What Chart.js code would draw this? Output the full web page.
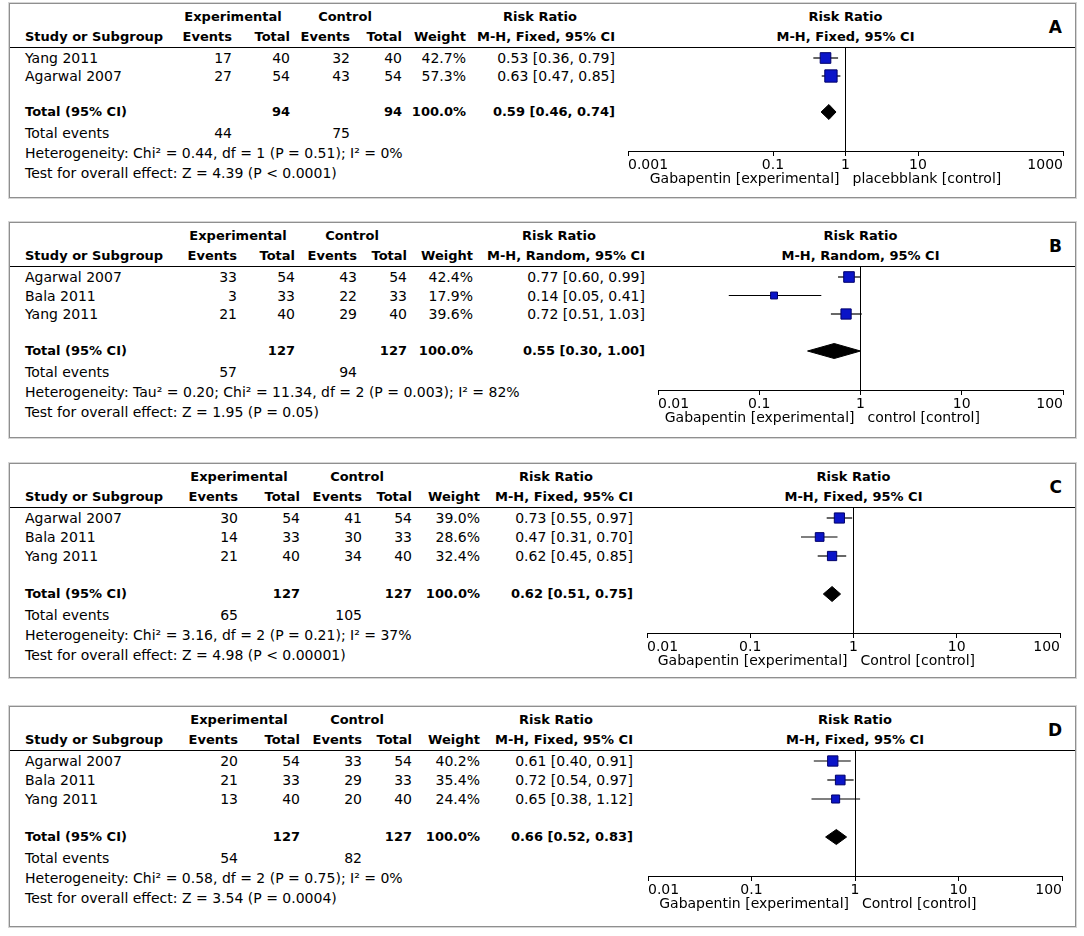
<!DOCTYPE html>
<html>
<head>
<meta charset="utf-8">
<script src="https://cdn.jsdelivr.net/npm/chart.js@4.4.1/dist/chart.umd.min.js"></script>
<style>
  body { margin: 0; background: #fff; width: 1084px; height: 936px; position: relative;
         font-family: "DejaVu Sans", sans-serif; font-size: 14px; color: #000; }
  .panel { position: absolute; left: 9px; width: 1067px; box-sizing: border-box;
           border: 1px solid #8f8f8f; box-shadow: 0 0 0 1px #d6d6d6; }
  .t { position: absolute; white-space: nowrap; line-height: 16px; }
  .b { font-weight: bold; font-size: 13px; }
  .letter { font-size: 17px; font-weight: bold; }
  .hline { position: absolute; left: 0; right: 0; height: 1px; background: #000; }
  canvas { position: absolute; }
</style>
</head>
<body>
<script>
// ---- data ----
const studiesA = ["Yang 2011", "Agarwal 2007"];
const expEventsA = [17, 27];
const expTotalA = [40, 54];
const ctrlEventsA = [32, 43];
const ctrlTotalA = [40, 54];
const weightA = [42.7, 57.3];
const rrA = [0.53, 0.63];
const loA = [0.36, 0.47];
const hiA = [0.79, 0.85];
const totalA = [94, 94];
const totalEventsA = [44, 75];
const pooledA = [0.59, 0.46, 0.74];
const hetA = "Heterogeneity: Chi² = 0.44, df = 1 (P = 0.51); I² = 0%";
const testA = "Test for overall effect: Z = 4.39 (P < 0.0001)";

const studiesB = ["Agarwal 2007", "Bala 2011", "Yang 2011"];
const expEventsB = [33, 3, 21];
const expTotalB = [54, 33, 40];
const ctrlEventsB = [43, 22, 29];
const ctrlTotalB = [54, 33, 40];
const weightB = [42.4, 17.9, 39.6];
const rrB = [0.77, 0.14, 0.72];
const loB = [0.60, 0.05, 0.51];
const hiB = [0.99, 0.41, 1.03];
const totalB = [127, 127];
const totalEventsB = [57, 94];
const pooledB = [0.55, 0.30, 1.00];
const hetB = "Heterogeneity: Tau² = 0.20; Chi² = 11.34, df = 2 (P = 0.003); I² = 82%";
const testB = "Test for overall effect: Z = 1.95 (P = 0.05)";

const studiesC = ["Agarwal 2007", "Bala 2011", "Yang 2011"];
const expEventsC = [30, 14, 21];
const expTotalC = [54, 33, 40];
const ctrlEventsC = [41, 30, 34];
const ctrlTotalC = [54, 33, 40];
const weightC = [39.0, 28.6, 32.4];
const rrC = [0.73, 0.47, 0.62];
const loC = [0.55, 0.31, 0.45];
const hiC = [0.97, 0.70, 0.85];
const totalC = [127, 127];
const totalEventsC = [65, 105];
const pooledC = [0.62, 0.51, 0.75];
const hetC = "Heterogeneity: Chi² = 3.16, df = 2 (P = 0.21); I² = 37%";
const testC = "Test for overall effect: Z = 4.98 (P < 0.00001)";

const studiesD = ["Agarwal 2007", "Bala 2011", "Yang 2011"];
const expEventsD = [20, 21, 13];
const expTotalD = [54, 33, 40];
const ctrlEventsD = [33, 29, 20];
const ctrlTotalD = [54, 33, 40];
const weightD = [40.2, 35.4, 24.4];
const rrD = [0.61, 0.72, 0.65];
const loD = [0.40, 0.54, 0.38];
const hiD = [0.91, 0.97, 1.12];
const totalD = [127, 127];
const totalEventsD = [54, 82];
const pooledD = [0.66, 0.52, 0.83];
const hetD = "Heterogeneity: Chi² = 0.58, df = 2 (P = 0.75); I² = 0%";
const testD = "Test for overall effect: Z = 3.54 (P = 0.0004)";

const ticksWide = [0.001, 0.1, 1, 10, 1000];
const tickLabelsWide = ["0.001", "0.1", "1", "10", "1000"];
const ticksNarrow = [0.01, 0.1, 1, 10, 100];
const tickLabelsNarrow = ["0.01", "0.1", "1", "10", "100"];

const methodFixed = "M-H, Fixed, 95% CI";
const methodRandom = "M-H, Random, 95% CI";
const favoursLeft = "Gabapentin [experimental]";

const panels = [
  { letter: "A", studies: studiesA, expEvents: expEventsA, expTotal: expTotalA, ctrlEvents: ctrlEventsA,
    ctrlTotal: ctrlTotalA, weight: weightA, rr: rrA, lo: loA, hi: hiA, total: totalA, totalEvents: totalEventsA,
    pooled: pooledA, het: hetA, test: testA, method: methodFixed, ticks: ticksWide, tickLabels: tickLabelsWide,
    right: "placebblank [control]" },
  { letter: "B", studies: studiesB, expEvents: expEventsB, expTotal: expTotalB, ctrlEvents: ctrlEventsB,
    ctrlTotal: ctrlTotalB, weight: weightB, rr: rrB, lo: loB, hi: hiB, total: totalB, totalEvents: totalEventsB,
    pooled: pooledB, het: hetB, test: testB, method: methodRandom, ticks: ticksNarrow, tickLabels: tickLabelsNarrow,
    right: "control [control]" },
  { letter: "C", studies: studiesC, expEvents: expEventsC, expTotal: expTotalC, ctrlEvents: ctrlEventsC,
    ctrlTotal: ctrlTotalC, weight: weightC, rr: rrC, lo: loC, hi: hiC, total: totalC, totalEvents: totalEventsC,
    pooled: pooledC, het: hetC, test: testC, method: methodFixed, ticks: ticksNarrow, tickLabels: tickLabelsNarrow,
    right: "Control [control]" },
  { letter: "D", studies: studiesD, expEvents: expEventsD, expTotal: expTotalD, ctrlEvents: ctrlEventsD,
    ctrlTotal: ctrlTotalD, weight: weightD, rr: rrD, lo: loD, hi: hiD, total: totalD, totalEvents: totalEventsD,
    pooled: pooledD, het: hetD, test: testD, method: methodFixed, ticks: ticksNarrow, tickLabels: tickLabelsNarrow,
    right: "Control [control]" },
];

// ---- layout (pixels) ----
const layouts = [
  { top: 3,   height: 195, rowH: 18,   cols: [232, 290, 350, 402, 466, 615], rrHead: 540, forest: [628, 1063] },
  { top: 222, height: 216, rowH: 18.5, cols: [237, 295, 357, 407, 473, 645], rrHead: 559, forest: [658, 1063] },
  { top: 463, height: 215, rowH: 19,   cols: [238, 300, 362, 412, 480, 633], rrHead: 556, forest: [647, 1060] },
  { top: 706, height: 221, rowH: 19,   cols: [238, 300, 362, 412, 480, 633], rrHead: 556, forest: [648, 1062] },
];
const HEAD1 = 14, HEAD2 = 34, LINE = 44, ROW0 = 55, AXIS_H = 44, PAD = 4;

Chart.defaults.font.family = '"DejaVu Sans", sans-serif';
Chart.defaults.font.size = 14;
Chart.defaults.color = "#000";

const fmt = (v) => v.toFixed(2);

function addText(el, txt, x, y, align, cls) {
  const d = document.createElement("div");
  d.className = "t" + (cls ? " " + cls : "");
  d.textContent = txt;
  const w = 460;
  let left = x - 10;
  if (align === "right") left -= w;
  if (align === "center") left -= w / 2;
  d.style.left = left + "px";
  d.style.width = w + "px";
  d.style.textAlign = align;
  d.style.top = (y - 9) + "px";
  el.appendChild(d);
}

const footerLabels = {
  id: "footerLabels",
  afterDraw(chart, args, opts) {
    const { ctx, chartArea, scales } = chart;
    const x1 = scales.x.getPixelForValue(1);
    const y = chartArea.bottom + 28;
    ctx.save();
    ctx.font = '14px "DejaVu Sans"';
    ctx.fillStyle = "#000";
    ctx.textBaseline = "middle";
    ctx.textAlign = "right";
    ctx.fillText(opts.left, x1 - 6, y);
    ctx.textAlign = "left";
    ctx.fillText(opts.right, x1 + 7, y);
    ctx.restore();
  },
};

panels.forEach((p, k) => {
  const L = layouts[k];
  const n = p.studies.length;
  const c = L.cols;

  const el = document.createElement("div");
  el.className = "panel";
  el.style.top = L.top + "px";
  el.style.height = L.height + "px";
  document.body.appendChild(el);

  // header
  addText(el, "Experimental", c[0] + 1, HEAD1, "center", "b");
  addText(el, "Control", c[2] - 5, HEAD1, "center", "b");
  addText(el, "Risk Ratio", L.rrHead, HEAD1, "center", "b");
  addText(el, "Study or Subgroup", 25, HEAD2, "left", "b");
  addText(el, "Events", c[0], HEAD2, "right", "b");
  addText(el, "Total", c[1], HEAD2, "right", "b");
  addText(el, "Events", c[2], HEAD2, "right", "b");
  addText(el, "Total", c[3], HEAD2, "right", "b");
  addText(el, "Weight", c[4], HEAD2, "right", "b");
  addText(el, p.method, c[5], HEAD2, "right", "b");
  const fc = (L.forest[0] + L.forest[1]) / 2;
  addText(el, "Risk Ratio", fc, HEAD1, "center", "b");
  addText(el, p.method, fc, HEAD2, "center", "b");
  addText(el, p.letter, 1062, 24, "right", "letter");

  const hl = document.createElement("div");
  hl.className = "hline";
  hl.style.top = (LINE - 1) + "px";
  el.appendChild(hl);

  // study rows
  for (let i = 0; i < n; i++) {
    const y = ROW0 + i * L.rowH;
    addText(el, p.studies[i], 25, y, "left");
    addText(el, String(p.expEvents[i]), c[0], y, "right");
    addText(el, String(p.expTotal[i]), c[1], y, "right");
    addText(el, String(p.ctrlEvents[i]), c[2], y, "right");
    addText(el, String(p.ctrlTotal[i]), c[3], y, "right");
    addText(el, p.weight[i].toFixed(1) + "%", c[4], y, "right");
    addText(el, fmt(p.rr[i]) + " [" + fmt(p.lo[i]) + ", " + fmt(p.hi[i]) + "]", c[5], y, "right");
  }
  const yTot = ROW0 + (n + 1) * L.rowH;
  addText(el, "Total (95% CI)", 25, yTot, "left", "b");
  addText(el, String(p.total[0]), c[1], yTot, "right", "b");
  addText(el, String(p.total[1]), c[3], yTot, "right", "b");
  addText(el, "100.0%", c[4], yTot, "right", "b");
  addText(el, fmt(p.pooled[0]) + " [" + fmt(p.pooled[1]) + ", " + fmt(p.pooled[2]) + "]", c[5], yTot, "right", "b");
  addText(el, "Total events", 25, yTot + 21, "left");
  addText(el, String(p.totalEvents[0]), c[0], yTot + 21, "right");
  addText(el, String(p.totalEvents[1]), c[2], yTot + 21, "right");
  addText(el, p.het, 25, yTot + 41, "left");
  addText(el, p.test, 25, yTot + 61, "left");

  // forest plot
  const axisY = yTot + 38;
  const areaH = axisY - LINE;
  const cv = document.createElement("canvas");
  const cw = L.forest[1] - L.forest[0] + 2 * PAD;
  cv.width = cw;
  cv.height = areaH + AXIS_H;
  cv.style.left = (L.forest[0] - PAD - 10) + "px";
  cv.style.top = LINE + "px";
  cv.style.width = cw + "px";
  cv.style.height = (areaH + AXIS_H) + "px";
  el.appendChild(cv);

  const yMin = -(ROW0 - 1 - LINE) / L.rowH;
  const yMax = yMin + areaH / L.rowH;
  const tIdx = n + 1;
  const half = 7.5 / L.rowH;

  const datasets = [
    {
      label: "studies",
      data: p.rr.map((v, i) => ({ x: v, y: i })),
      pointStyle: "rect",
      pointRadius: p.weight.map((w) => 1.15 * Math.sqrt(w)),
      backgroundColor: "#0a14c8",
      borderColor: "#00006a",
      borderWidth: 1,
      showLine: false,
      order: 0,
    },
    {
      label: "pooled",
      data: [
        { x: p.pooled[1], y: tIdx },
        { x: p.pooled[0], y: tIdx - half },
        { x: p.pooled[2], y: tIdx },
        { x: p.pooled[0], y: tIdx + half },
        { x: p.pooled[1], y: tIdx },
      ],
      showLine: true,
      fill: "shape",
      backgroundColor: "#000",
      borderColor: "#000",
      borderWidth: 1,
      pointRadius: 0,
      tension: 0,
      order: 1,
    },
  ];
  p.rr.forEach((v, i) => {
    datasets.push({
      label: "ci" + i,
      data: [{ x: p.lo[i], y: i }, { x: p.hi[i], y: i }],
      showLine: true,
      borderColor: "#000",
      borderWidth: 1.2,
      pointRadius: 0,
      order: 2,
    });
  });

  new Chart(cv, {
    type: "scatter",
    data: { datasets },
    options: {
      responsive: false,
      animation: false,
      devicePixelRatio: 1,
      layout: { autoPadding: false, padding: { left: PAD, right: PAD, top: 0, bottom: 0 } },
      plugins: {
        legend: { display: false },
        tooltip: { enabled: false },
        footerLabels: { left: favoursLeft, right: p.right },
      },
      scales: {
        x: {
          type: "logarithmic",
          min: p.ticks[0],
          max: p.ticks[p.ticks.length - 1],
          afterBuildTicks: (s) => { s.ticks = p.ticks.map((v) => ({ value: v })); },
          afterFit: (s) => { s.height = AXIS_H; },
          ticks: {
            align: "inner",
            autoSkip: false,
            maxRotation: 0,
            color: "#000",
            padding: 1,
            font: { size: 14 },
            callback: (v, i) => p.tickLabels[i],
          },
          grid: {
            color: (ctx) => (ctx.tick && ctx.tick.value === 1 ? "#000" : "rgba(0,0,0,0)"),
            tickColor: "#000",
            tickLength: 5,
            lineWidth: 1,
          },
          border: { display: true, color: "#000", width: 1 },
        },
        y: { type: "linear", reverse: true, min: yMin, max: yMax, display: false },
      },
    },
    plugins: [footerLabels],
  });
});
</script>
</body>
</html>
